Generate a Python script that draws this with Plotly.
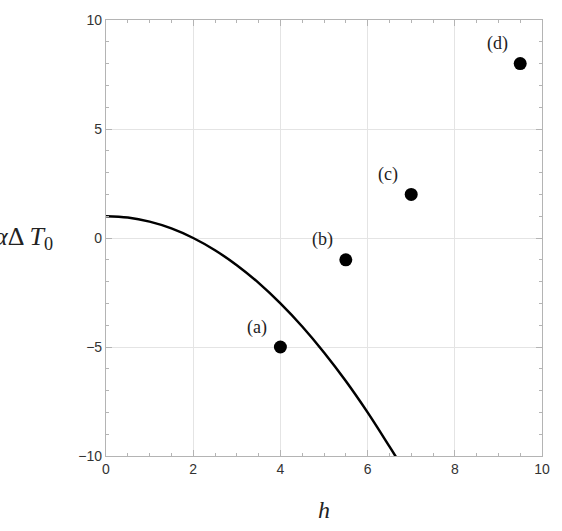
import plotly.graph_objects as go

# Curve values
curve_h = [0, 0.5, 1.0, 1.5, 2.0, 2.5, 3.0, 3.5, 4.0, 4.5, 5.0, 5.5, 6.0, 6.5, 6.7]
curve_y = [1.0, 0.94, 0.75, 0.44, 0.0, -0.56, -1.25, -2.06, -3.0, -4.06, -5.25, -6.56, -8.0, -9.56, -10.2]

# Points
pt_h = [4.0, 5.5, 7.0, 9.5]
pt_y = [-5.0, -1.0, 2.0, 8.0]
pt_labels = ["(a)", "(b)", "(c)", "(d)"]

x_ticks = [0, 2, 4, 6, 8, 10]
y_ticks = [-10, -5, 0, 5, 10]

fig = go.Figure()
fig.add_trace(go.Scatter(x=curve_h, y=curve_y, mode="lines", line=dict(color="black", width=2.5, shape="spline"),
                         showlegend=False, hoverinfo="skip"))
fig.add_trace(go.Scatter(x=pt_h, y=pt_y, mode="markers", marker=dict(color="black", size=13),
                         showlegend=False))

for x, y, t in zip(pt_h, pt_y, pt_labels):
    fig.add_annotation(x=x, y=y, text=t, showarrow=False, xshift=-23, yshift=20,
                       font=dict(family="Liberation Serif", size=18, color="#222"))

fig.add_annotation(xref="paper", yref="paper", x=-0.118, y=0.5, xanchor="right", yanchor="middle",
                   text="<i>α</i>Δ <i>T</i><sub>0</sub>", showarrow=False,
                   font=dict(family="Liberation Serif", size=26, color="#222"))
fig.add_annotation(xref="paper", yref="paper", x=0.5, y=0, yshift=-54, xanchor="center", yanchor="middle",
                   text="<i>h</i>", showarrow=False,
                   font=dict(family="Liberation Serif", size=24, color="#222"))

axis_common = dict(showline=True, linecolor="#b4b4b4", linewidth=1.2, mirror="allticks",
                   ticks="inside", ticklen=6, tickcolor="#b4b4b4", tickwidth=1,
                   showgrid=True, gridcolor="#e4e4e4", gridwidth=1, zeroline=False,
                   tickfont=dict(family="Liberation Sans", size=14, color="#333"))

fig.update_xaxes(range=[0, 10], tickvals=x_ticks, **axis_common,
                 minor=dict(dtick=0.5, ticks="inside", ticklen=3, tickcolor="#b4b4b4", showgrid=False))
fig.update_yaxes(range=[-10, 10], tickvals=y_ticks, **axis_common,
                 minor=dict(dtick=1, ticks="inside", ticklen=3, tickcolor="#b4b4b4", showgrid=False))

fig.update_layout(width=562, height=531, margin=dict(l=106, r=13, t=13, b=75),
                  paper_bgcolor="white", plot_bgcolor="white")

fig.write_html("out.html")
